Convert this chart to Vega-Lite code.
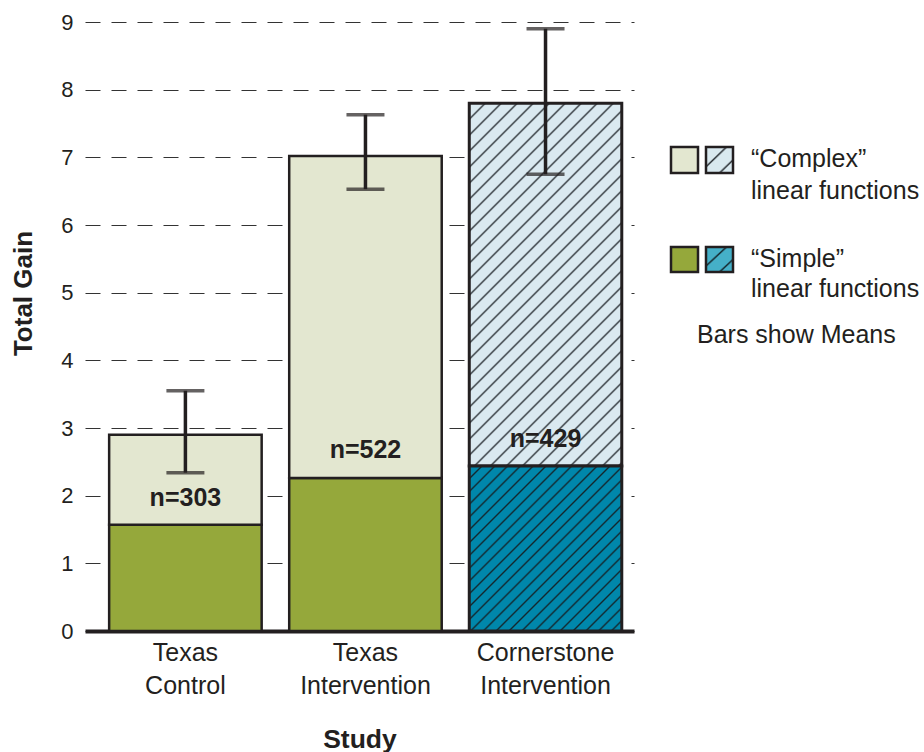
{
  "$schema": "https://vega.github.io/schema/vega-lite/v6.json",
  "background": "white",
  "padding": {"left": 10, "top": 11, "right": 0, "bottom": 0},
  "spacing": 20,
  "config": {
    "view": {"stroke": null},
    "font": "Liberation Sans",
    "text": {"font": "Liberation Sans"}
  },
  "datasets": {
    "bars": [
      {"study": "Texas Control", "segment": "simple", "lo": 0, "hi": 1.57},
      {"study": "Texas Control", "segment": "complex", "lo": 1.57, "hi": 2.9},
      {"study": "Texas Intervention", "segment": "simple", "lo": 0, "hi": 2.26},
      {"study": "Texas Intervention", "segment": "complex", "lo": 2.26, "hi": 7.02},
      {"study": "Cornerstone Intervention", "segment": "simple", "lo": 0, "hi": 2.44},
      {"study": "Cornerstone Intervention", "segment": "complex", "lo": 2.44, "hi": 7.8}
    ],
    "err": [
      {"study": "Texas Control", "lo": 2.34, "hi": 3.55},
      {"study": "Texas Intervention", "lo": 6.53, "hi": 7.63},
      {"study": "Cornerstone Intervention", "lo": 6.75, "hi": 8.9}
    ],
    "nlab": [
      {"study": "Texas Control", "y": 1.97, "label": "n=303"},
      {"study": "Texas Intervention", "y": 2.67, "label": "n=522"},
      {"study": "Cornerstone Intervention", "y": 2.84, "label": "n=429"}
    ],
    "sw": [
      {"item": "complex", "group": "texas", "x0": 17, "x1": 44, "y0": 6.768, "y1": 7.153},
      {"item": "complex", "group": "cornerstone", "x0": 52, "x1": 79, "y0": 6.768, "y1": 7.153},
      {"item": "simple", "group": "texas", "x0": 17, "x1": 44, "y0": 5.305, "y1": 5.675},
      {"item": "simple", "group": "cornerstone", "x0": 52, "x1": 79, "y0": 5.305, "y1": 5.675}
    ],
    "ltext": [
      {"x": 97, "y": 6.854, "text": "“Complex”"},
      {"x": 97, "y": 6.38, "text": "linear functions"},
      {"x": 97, "y": 5.384, "text": "“Simple”"},
      {"x": 97, "y": 4.94, "text": "linear functions"},
      {"x": 43, "y": 4.252, "text": "Bars show Means"}
    ]
  },
  "hconcat": [
    {
      "width": 549,
      "height": 609,
      "layer": [
        {
          "data": {"name": "bars"},
          "transform": [{"filter": "datum.study != 'Cornerstone Intervention'"}],
          "mark": {"type": "bar", "stroke": "#231f20", "strokeWidth": 2.5},
          "encoding": {
            "x": {
              "field": "study", "type": "nominal",
              "sort": ["Texas Control", "Texas Intervention", "Cornerstone Intervention"],
              "scale": {"paddingInner": 0.153, "paddingOuter": 0.101, "align": 0.664},
              "title": "Study",
              "axis": {
                "labelAngle": 0, "labelExpr": "split(datum.label, ' ')",
                "labelFontSize": 25, "labelLineHeight": 33, "labelColor": "#231f20",
                "labelPadding": 9, "ticks": false, "tickSize": 0,
                "domain": true, "domainColor": "#231f20", "domainWidth": 4,
                "grid": false,
                "titleFontSize": 26.5, "titleFontWeight": "bold", "titleColor": "#231f20",
                "titlePadding": 28
              }
            },
            "y": {
              "field": "lo", "type": "quantitative",
              "scale": {"domain": [0, 9], "nice": false},
              "title": "Total Gain",
              "axis": {
                "values": [0, 1, 2, 3, 4, 5, 6, 7, 8, 9], "format": "d",
                "domain": false, "ticks": false, "tickSize": 0,
                "labelFontSize": 22, "labelColor": "#231f20", "labelPadding": 12,
                "grid": true, "gridDash": [15, 11], "gridColor": "#333333", "gridWidth": 1.2,
                "titleFontSize": 26, "titleFontWeight": "bold", "titleColor": "#231f20",
                "titlePadding": 24, "titleY": 271
              }
            },
            "y2": {"field": "hi"},
            "color": {
              "field": "segment", "type": "nominal",
              "scale": {"domain": ["complex", "simple"], "range": ["#e3e7d0", "#95a83b"]},
              "legend": null
            }
          }
        },
        {
          "data": {"name": "bars"},
          "transform": [{"filter": "datum.study == 'Cornerstone Intervention' && datum.segment == 'complex'"}],
          "mark": {
            "type": "bar", "stroke": "#231f20", "strokeWidth": 3,
            "fill": {
              "gradient": "linear", "x1": 0, "y1": 0, "x2": 0.6305, "y2": 1.4995,
              "stops": [
                {"offset": 0, "color": "#dae9f0"},
                {"offset": 0.022, "color": "#dae9f0"}, {"offset": 0.025, "color": "#2b3136"}, {"offset": 0.028, "color": "#dae9f0"},
                {"offset": 0.047, "color": "#dae9f0"}, {"offset": 0.05, "color": "#2b3136"}, {"offset": 0.053, "color": "#dae9f0"},
                {"offset": 0.072, "color": "#dae9f0"}, {"offset": 0.075, "color": "#2b3136"}, {"offset": 0.078, "color": "#dae9f0"},
                {"offset": 0.097, "color": "#dae9f0"}, {"offset": 0.1, "color": "#2b3136"}, {"offset": 0.103, "color": "#dae9f0"},
                {"offset": 0.122, "color": "#dae9f0"}, {"offset": 0.125, "color": "#2b3136"}, {"offset": 0.128, "color": "#dae9f0"},
                {"offset": 0.147, "color": "#dae9f0"}, {"offset": 0.15, "color": "#2b3136"}, {"offset": 0.153, "color": "#dae9f0"},
                {"offset": 0.172, "color": "#dae9f0"}, {"offset": 0.175, "color": "#2b3136"}, {"offset": 0.178, "color": "#dae9f0"},
                {"offset": 0.197, "color": "#dae9f0"}, {"offset": 0.2, "color": "#2b3136"}, {"offset": 0.203, "color": "#dae9f0"},
                {"offset": 0.222, "color": "#dae9f0"}, {"offset": 0.225, "color": "#2b3136"}, {"offset": 0.228, "color": "#dae9f0"},
                {"offset": 0.247, "color": "#dae9f0"}, {"offset": 0.25, "color": "#2b3136"}, {"offset": 0.253, "color": "#dae9f0"},
                {"offset": 0.272, "color": "#dae9f0"}, {"offset": 0.275, "color": "#2b3136"}, {"offset": 0.278, "color": "#dae9f0"},
                {"offset": 0.297, "color": "#dae9f0"}, {"offset": 0.3, "color": "#2b3136"}, {"offset": 0.303, "color": "#dae9f0"},
                {"offset": 0.322, "color": "#dae9f0"}, {"offset": 0.325, "color": "#2b3136"}, {"offset": 0.328, "color": "#dae9f0"},
                {"offset": 0.347, "color": "#dae9f0"}, {"offset": 0.35, "color": "#2b3136"}, {"offset": 0.353, "color": "#dae9f0"},
                {"offset": 0.372, "color": "#dae9f0"}, {"offset": 0.375, "color": "#2b3136"}, {"offset": 0.378, "color": "#dae9f0"},
                {"offset": 0.397, "color": "#dae9f0"}, {"offset": 0.4, "color": "#2b3136"}, {"offset": 0.403, "color": "#dae9f0"},
                {"offset": 0.422, "color": "#dae9f0"}, {"offset": 0.425, "color": "#2b3136"}, {"offset": 0.428, "color": "#dae9f0"},
                {"offset": 0.447, "color": "#dae9f0"}, {"offset": 0.45, "color": "#2b3136"}, {"offset": 0.453, "color": "#dae9f0"},
                {"offset": 0.472, "color": "#dae9f0"}, {"offset": 0.475, "color": "#2b3136"}, {"offset": 0.478, "color": "#dae9f0"},
                {"offset": 0.497, "color": "#dae9f0"}, {"offset": 0.5, "color": "#2b3136"}, {"offset": 0.503, "color": "#dae9f0"},
                {"offset": 0.522, "color": "#dae9f0"}, {"offset": 0.525, "color": "#2b3136"}, {"offset": 0.528, "color": "#dae9f0"},
                {"offset": 0.547, "color": "#dae9f0"}, {"offset": 0.55, "color": "#2b3136"}, {"offset": 0.553, "color": "#dae9f0"},
                {"offset": 0.572, "color": "#dae9f0"}, {"offset": 0.575, "color": "#2b3136"}, {"offset": 0.578, "color": "#dae9f0"},
                {"offset": 0.597, "color": "#dae9f0"}, {"offset": 0.6, "color": "#2b3136"}, {"offset": 0.603, "color": "#dae9f0"},
                {"offset": 0.622, "color": "#dae9f0"}, {"offset": 0.625, "color": "#2b3136"}, {"offset": 0.628, "color": "#dae9f0"},
                {"offset": 0.647, "color": "#dae9f0"}, {"offset": 0.65, "color": "#2b3136"}, {"offset": 0.653, "color": "#dae9f0"},
                {"offset": 0.672, "color": "#dae9f0"}, {"offset": 0.675, "color": "#2b3136"}, {"offset": 0.678, "color": "#dae9f0"},
                {"offset": 0.697, "color": "#dae9f0"}, {"offset": 0.7, "color": "#2b3136"}, {"offset": 0.703, "color": "#dae9f0"},
                {"offset": 0.722, "color": "#dae9f0"}, {"offset": 0.725, "color": "#2b3136"}, {"offset": 0.728, "color": "#dae9f0"},
                {"offset": 0.747, "color": "#dae9f0"}, {"offset": 0.75, "color": "#2b3136"}, {"offset": 0.753, "color": "#dae9f0"},
                {"offset": 0.772, "color": "#dae9f0"}, {"offset": 0.775, "color": "#2b3136"}, {"offset": 0.778, "color": "#dae9f0"},
                {"offset": 0.797, "color": "#dae9f0"}, {"offset": 0.8, "color": "#2b3136"}, {"offset": 0.803, "color": "#dae9f0"},
                {"offset": 1, "color": "#dae9f0"}
              ]
            }
          },
          "encoding": {
            "x": {"field": "study", "type": "nominal", "sort": ["Texas Control", "Texas Intervention", "Cornerstone Intervention"], "title": "Study"},
            "y": {"field": "lo", "type": "quantitative", "title": "Total Gain"},
            "y2": {"field": "hi"}
          }
        },
        {
          "data": {"name": "bars"},
          "transform": [{"filter": "datum.study == 'Cornerstone Intervention' && datum.segment == 'simple'"}],
          "mark": {
            "type": "bar", "stroke": "#231f20", "strokeWidth": 3,
            "fill": {
              "gradient": "linear", "x1": 0, "y1": 0, "x2": 1.932, "y2": 2.092,
              "stops": [
                {"offset": 0, "color": "#0087ab"},
                {"offset": 0.017, "color": "#0087ab"}, {"offset": 0.02, "color": "#14262c"}, {"offset": 0.023, "color": "#0087ab"},
                {"offset": 0.037, "color": "#0087ab"}, {"offset": 0.04, "color": "#14262c"}, {"offset": 0.043, "color": "#0087ab"},
                {"offset": 0.057, "color": "#0087ab"}, {"offset": 0.06, "color": "#14262c"}, {"offset": 0.063, "color": "#0087ab"},
                {"offset": 0.077, "color": "#0087ab"}, {"offset": 0.08, "color": "#14262c"}, {"offset": 0.083, "color": "#0087ab"},
                {"offset": 0.097, "color": "#0087ab"}, {"offset": 0.1, "color": "#14262c"}, {"offset": 0.103, "color": "#0087ab"},
                {"offset": 0.117, "color": "#0087ab"}, {"offset": 0.12, "color": "#14262c"}, {"offset": 0.123, "color": "#0087ab"},
                {"offset": 0.137, "color": "#0087ab"}, {"offset": 0.14, "color": "#14262c"}, {"offset": 0.143, "color": "#0087ab"},
                {"offset": 0.157, "color": "#0087ab"}, {"offset": 0.16, "color": "#14262c"}, {"offset": 0.163, "color": "#0087ab"},
                {"offset": 0.177, "color": "#0087ab"}, {"offset": 0.18, "color": "#14262c"}, {"offset": 0.183, "color": "#0087ab"},
                {"offset": 0.197, "color": "#0087ab"}, {"offset": 0.2, "color": "#14262c"}, {"offset": 0.203, "color": "#0087ab"},
                {"offset": 0.217, "color": "#0087ab"}, {"offset": 0.22, "color": "#14262c"}, {"offset": 0.223, "color": "#0087ab"},
                {"offset": 0.237, "color": "#0087ab"}, {"offset": 0.24, "color": "#14262c"}, {"offset": 0.243, "color": "#0087ab"},
                {"offset": 0.257, "color": "#0087ab"}, {"offset": 0.26, "color": "#14262c"}, {"offset": 0.263, "color": "#0087ab"},
                {"offset": 0.277, "color": "#0087ab"}, {"offset": 0.28, "color": "#14262c"}, {"offset": 0.283, "color": "#0087ab"},
                {"offset": 0.297, "color": "#0087ab"}, {"offset": 0.3, "color": "#14262c"}, {"offset": 0.303, "color": "#0087ab"},
                {"offset": 0.317, "color": "#0087ab"}, {"offset": 0.32, "color": "#14262c"}, {"offset": 0.323, "color": "#0087ab"},
                {"offset": 0.337, "color": "#0087ab"}, {"offset": 0.34, "color": "#14262c"}, {"offset": 0.343, "color": "#0087ab"},
                {"offset": 0.357, "color": "#0087ab"}, {"offset": 0.36, "color": "#14262c"}, {"offset": 0.363, "color": "#0087ab"},
                {"offset": 0.377, "color": "#0087ab"}, {"offset": 0.38, "color": "#14262c"}, {"offset": 0.383, "color": "#0087ab"},
                {"offset": 0.397, "color": "#0087ab"}, {"offset": 0.4, "color": "#14262c"}, {"offset": 0.403, "color": "#0087ab"},
                {"offset": 0.417, "color": "#0087ab"}, {"offset": 0.42, "color": "#14262c"}, {"offset": 0.423, "color": "#0087ab"},
                {"offset": 0.437, "color": "#0087ab"}, {"offset": 0.44, "color": "#14262c"}, {"offset": 0.443, "color": "#0087ab"},
                {"offset": 0.457, "color": "#0087ab"}, {"offset": 0.46, "color": "#14262c"}, {"offset": 0.463, "color": "#0087ab"},
                {"offset": 0.477, "color": "#0087ab"}, {"offset": 0.48, "color": "#14262c"}, {"offset": 0.483, "color": "#0087ab"},
                {"offset": 1, "color": "#0087ab"}
              ]
            }
          },
          "encoding": {
            "x": {"field": "study", "type": "nominal", "sort": ["Texas Control", "Texas Intervention", "Cornerstone Intervention"], "title": "Study"},
            "y": {"field": "lo", "type": "quantitative", "title": "Total Gain"},
            "y2": {"field": "hi"}
          }
        },
        {
          "data": {"name": "err"},
          "mark": {"type": "rule", "color": "#231f20", "strokeWidth": 3.5},
          "encoding": {
            "x": {"field": "study", "type": "nominal", "sort": ["Texas Control", "Texas Intervention", "Cornerstone Intervention"], "title": "Study"},
            "y": {"field": "lo", "type": "quantitative", "title": "Total Gain"},
            "y2": {"field": "hi"}
          }
        },
        {
          "data": {"name": "err"},
          "mark": {"type": "tick", "color": "#231f20", "size": 38, "thickness": 3.5, "orient": "horizontal"},
          "encoding": {
            "x": {"field": "study", "type": "nominal", "sort": ["Texas Control", "Texas Intervention", "Cornerstone Intervention"], "title": "Study"},
            "y": {"field": "lo", "type": "quantitative", "title": "Total Gain"}
          }
        },
        {
          "data": {"name": "err"},
          "mark": {"type": "tick", "color": "#231f20", "size": 38, "thickness": 3.5, "orient": "horizontal"},
          "encoding": {
            "x": {"field": "study", "type": "nominal", "sort": ["Texas Control", "Texas Intervention", "Cornerstone Intervention"], "title": "Study"},
            "y": {"field": "hi", "type": "quantitative", "title": "Total Gain"}
          }
        },
        {
          "data": {"name": "nlab"},
          "mark": {"type": "text", "fontSize": 25, "fontWeight": "bold", "color": "#231f20", "baseline": "middle", "align": "center"},
          "encoding": {
            "x": {"field": "study", "type": "nominal", "sort": ["Texas Control", "Texas Intervention", "Cornerstone Intervention"], "title": "Study"},
            "y": {"field": "y", "type": "quantitative", "title": "Total Gain"},
            "text": {"field": "label"}
          }
        }
      ]
    },
    {
      "width": 260,
      "height": 609,
      "layer": [
        {
          "data": {"name": "sw"},
          "transform": [{"filter": "datum.group == 'texas'"}],
          "mark": {"type": "rect", "stroke": "#231f20", "strokeWidth": 2.5},
          "encoding": {
            "x": {"field": "x0", "type": "quantitative", "scale": {"domain": [0, 260], "nice": false}, "axis": null},
            "x2": {"field": "x1"},
            "y": {"field": "y0", "type": "quantitative", "scale": {"domain": [0, 9], "nice": false}, "axis": null},
            "y2": {"field": "y1"},
            "color": {
              "field": "item", "type": "nominal",
              "scale": {"domain": ["complex", "simple"], "range": ["#e3e7d0", "#95a83b"]},
              "legend": null
            }
          }
        },
        {
          "data": {"name": "sw"},
          "transform": [{"filter": "datum.group == 'cornerstone' && datum.item == 'complex'"}],
          "mark": {
            "type": "rect", "stroke": "#231f20", "strokeWidth": 2.5,
            "fill": {
              "gradient": "linear", "x1": 0, "y1": 0, "x2": 1, "y2": 1,
              "stops": [
                {"offset": 0, "color": "#d9e9ef"},
                {"offset": 0.34, "color": "#d9e9ef"}, {"offset": 0.38, "color": "#2b3136"}, {"offset": 0.42, "color": "#d9e9ef"},
                {"offset": 0.71, "color": "#d9e9ef"}, {"offset": 0.75, "color": "#2b3136"}, {"offset": 0.79, "color": "#d9e9ef"},
                {"offset": 1, "color": "#d9e9ef"}
              ]
            }
          },
          "encoding": {
            "x": {"field": "x0", "type": "quantitative"},
            "x2": {"field": "x1"},
            "y": {"field": "y0", "type": "quantitative"},
            "y2": {"field": "y1"}
          }
        },
        {
          "data": {"name": "sw"},
          "transform": [{"filter": "datum.group == 'cornerstone' && datum.item == 'simple'"}],
          "mark": {
            "type": "rect", "stroke": "#231f20", "strokeWidth": 2.5,
            "fill": {
              "gradient": "linear", "x1": 0, "y1": 0, "x2": 1, "y2": 1,
              "stops": [
                {"offset": 0, "color": "#45b0c8"},
                {"offset": 0.34, "color": "#45b0c8"}, {"offset": 0.38, "color": "#14262c"}, {"offset": 0.42, "color": "#45b0c8"},
                {"offset": 0.71, "color": "#45b0c8"}, {"offset": 0.75, "color": "#14262c"}, {"offset": 0.79, "color": "#45b0c8"},
                {"offset": 1, "color": "#45b0c8"}
              ]
            }
          },
          "encoding": {
            "x": {"field": "x0", "type": "quantitative"},
            "x2": {"field": "x1"},
            "y": {"field": "y0", "type": "quantitative"},
            "y2": {"field": "y1"}
          }
        },
        {
          "data": {"name": "ltext"},
          "mark": {"type": "text", "fontSize": 25, "color": "#231f20", "align": "left", "baseline": "alphabetic"},
          "encoding": {
            "x": {"field": "x", "type": "quantitative"},
            "y": {"field": "y", "type": "quantitative"},
            "text": {"field": "text"}
          }
        }
      ]
    }
  ]
}
